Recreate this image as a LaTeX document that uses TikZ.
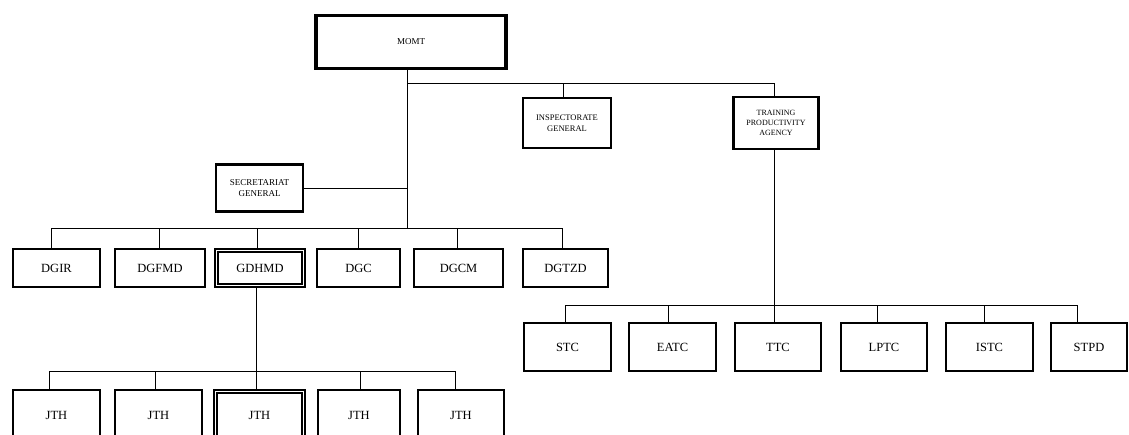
\documentclass[tikz,border=0pt]{standalone}
\usepackage{fontspec}
\setmainfont{Liberation Serif}
\begin{document}
\begin{tikzpicture}[x=1pt,y=-1pt,
  unit/.style={draw,line width=2.4pt,inner sep=1pt,align=center,font=\fontsize{12.5}{13}\selectfont},
  small/.style={unit,font=\fontsize{8.5}{10.5}\selectfont},
  dbl/.style={unit,line width=1.5pt,double=white,double distance=1.6pt},
  wire/.style={line width=0.9pt}]
\useasboundingbox (0,0) rectangle (1129,434);
\clip (0,0) rectangle (1129,434);

% top level
\node[unit,line width=3.6pt,minimum width=190pt,minimum height=53pt,font=\fontsize{9}{10}\selectfont] (momt) at (411,42) {MOMT};
\node[small,minimum width=88pt,minimum height=50pt] (insp) at (567,123) {INSPECTORATE\\GENERAL};
\node[small,minimum width=85pt,minimum height=52pt,font=\fontsize{8}{10}\selectfont] (tpa) at (776,123) {TRAINING\\PRODUCTIVITY\\AGENCY};
\node[small,minimum width=87pt,minimum height=47pt,font=\fontsize{9}{11}\selectfont] (sec) at (259.5,188) {SECRETARIAT\\GENERAL};

% directorates
\node[unit,minimum width=87pt,minimum height=38pt] (dgir)  at (56.5,268) {DGIR};
\node[unit,minimum width=90pt,minimum height=38pt] (dgfmd) at (160,268) {DGFMD};
\node[dbl, minimum width=87pt,minimum height=35pt] (gdhmd) at (260,268) {GDHMD};
\node[unit,minimum width=83pt,minimum height=38pt] (dgc)   at (358.5,268) {DGC};
\node[unit,minimum width=89pt,minimum height=38pt] (dgcm)  at (458.5,268) {DGCM};
\node[unit,minimum width=85pt,minimum height=38pt] (dgtzd) at (565.5,268) {DGTZD};

% JTH row
\node[unit,minimum width=87pt,minimum height=50pt] (j1) at (56.5,415) {JTH};
\node[unit,minimum width=87pt,minimum height=50pt] (j2) at (158.5,415) {JTH};
\node[dbl, minimum width=88pt,minimum height=47pt] (j3) at (259.5,415) {JTH};
\node[unit,minimum width=82pt,minimum height=50pt] (j4) at (359,415) {JTH};
\node[unit,minimum width=86pt,minimum height=50pt] (j5) at (461,415) {JTH};

% training centres
\node[unit,minimum width=87pt,minimum height=48pt] (stc)  at (567.5,347) {STC};
\node[unit,minimum width=87pt,minimum height=48pt] (eatc) at (672.5,347) {EATC};
\node[unit,minimum width=86pt,minimum height=48pt] (ttc)  at (778,347) {TTC};
\node[unit,minimum width=86pt,minimum height=48pt] (lptc) at (884,347) {LPTC};
\node[unit,minimum width=87pt,minimum height=48pt] (istc) at (989.5,347) {ISTC};
\node[unit,minimum width=76pt,minimum height=48pt] (stpd) at (1089,347) {STPD};

% bus points
\coordinate (top) at (407,83);
\coordinate (dg) at (407,228);
\coordinate (b1) at (51,228);  \coordinate (b2) at (159,228);
\coordinate (b3) at (257,228); \coordinate (b4) at (358,228);
\coordinate (b5) at (457,228); \coordinate (b6) at (562,228);
\coordinate (ti) at (563,83);  \coordinate (tt) at (774,83);
\coordinate (r1) at (565,305); \coordinate (r2) at (668,305);
\coordinate (r3) at (774,305); \coordinate (r4) at (877,305);
\coordinate (r5) at (984,305); \coordinate (r6) at (1077,305);
\coordinate (g)  at (256,371);
\coordinate (k1) at (49,371);  \coordinate (k2) at (155,371);
\coordinate (k4) at (360,371); \coordinate (k5) at (455,371);

% connectors
\draw[wire] (momt.south -| top) -- (dg);
\draw[wire] (top) -- (tt) -- (tt |- tpa.north);
\draw[wire] (ti) -- (ti |- insp.north);
\draw[wire] (sec.east) -- (sec.east -| dg);
\draw[wire] (b1) -- (b6);
\foreach \c/\n in {b1/dgir,b2/dgfmd,b3/gdhmd,b4/dgc,b5/dgcm,b6/dgtzd}
  \draw[wire] (\c) -- (\c |- \n.north);
\draw[wire] (tpa.south -| r3) -- (r3);
\draw[wire] (r1) -- (r6);
\foreach \c/\n in {r1/stc,r2/eatc,r3/ttc,r4/lptc,r5/istc,r6/stpd}
  \draw[wire] (\c) -- (\c |- \n.north);
\draw[wire] (gdhmd.south -| g) -- (g);
\draw[wire] (k1) -- (k5);
\foreach \c/\n in {k1/j1,k2/j2,g/j3,k4/j4,k5/j5}
  \draw[wire] (\c) -- (\c |- \n.north);
\end{tikzpicture}
\end{document}
